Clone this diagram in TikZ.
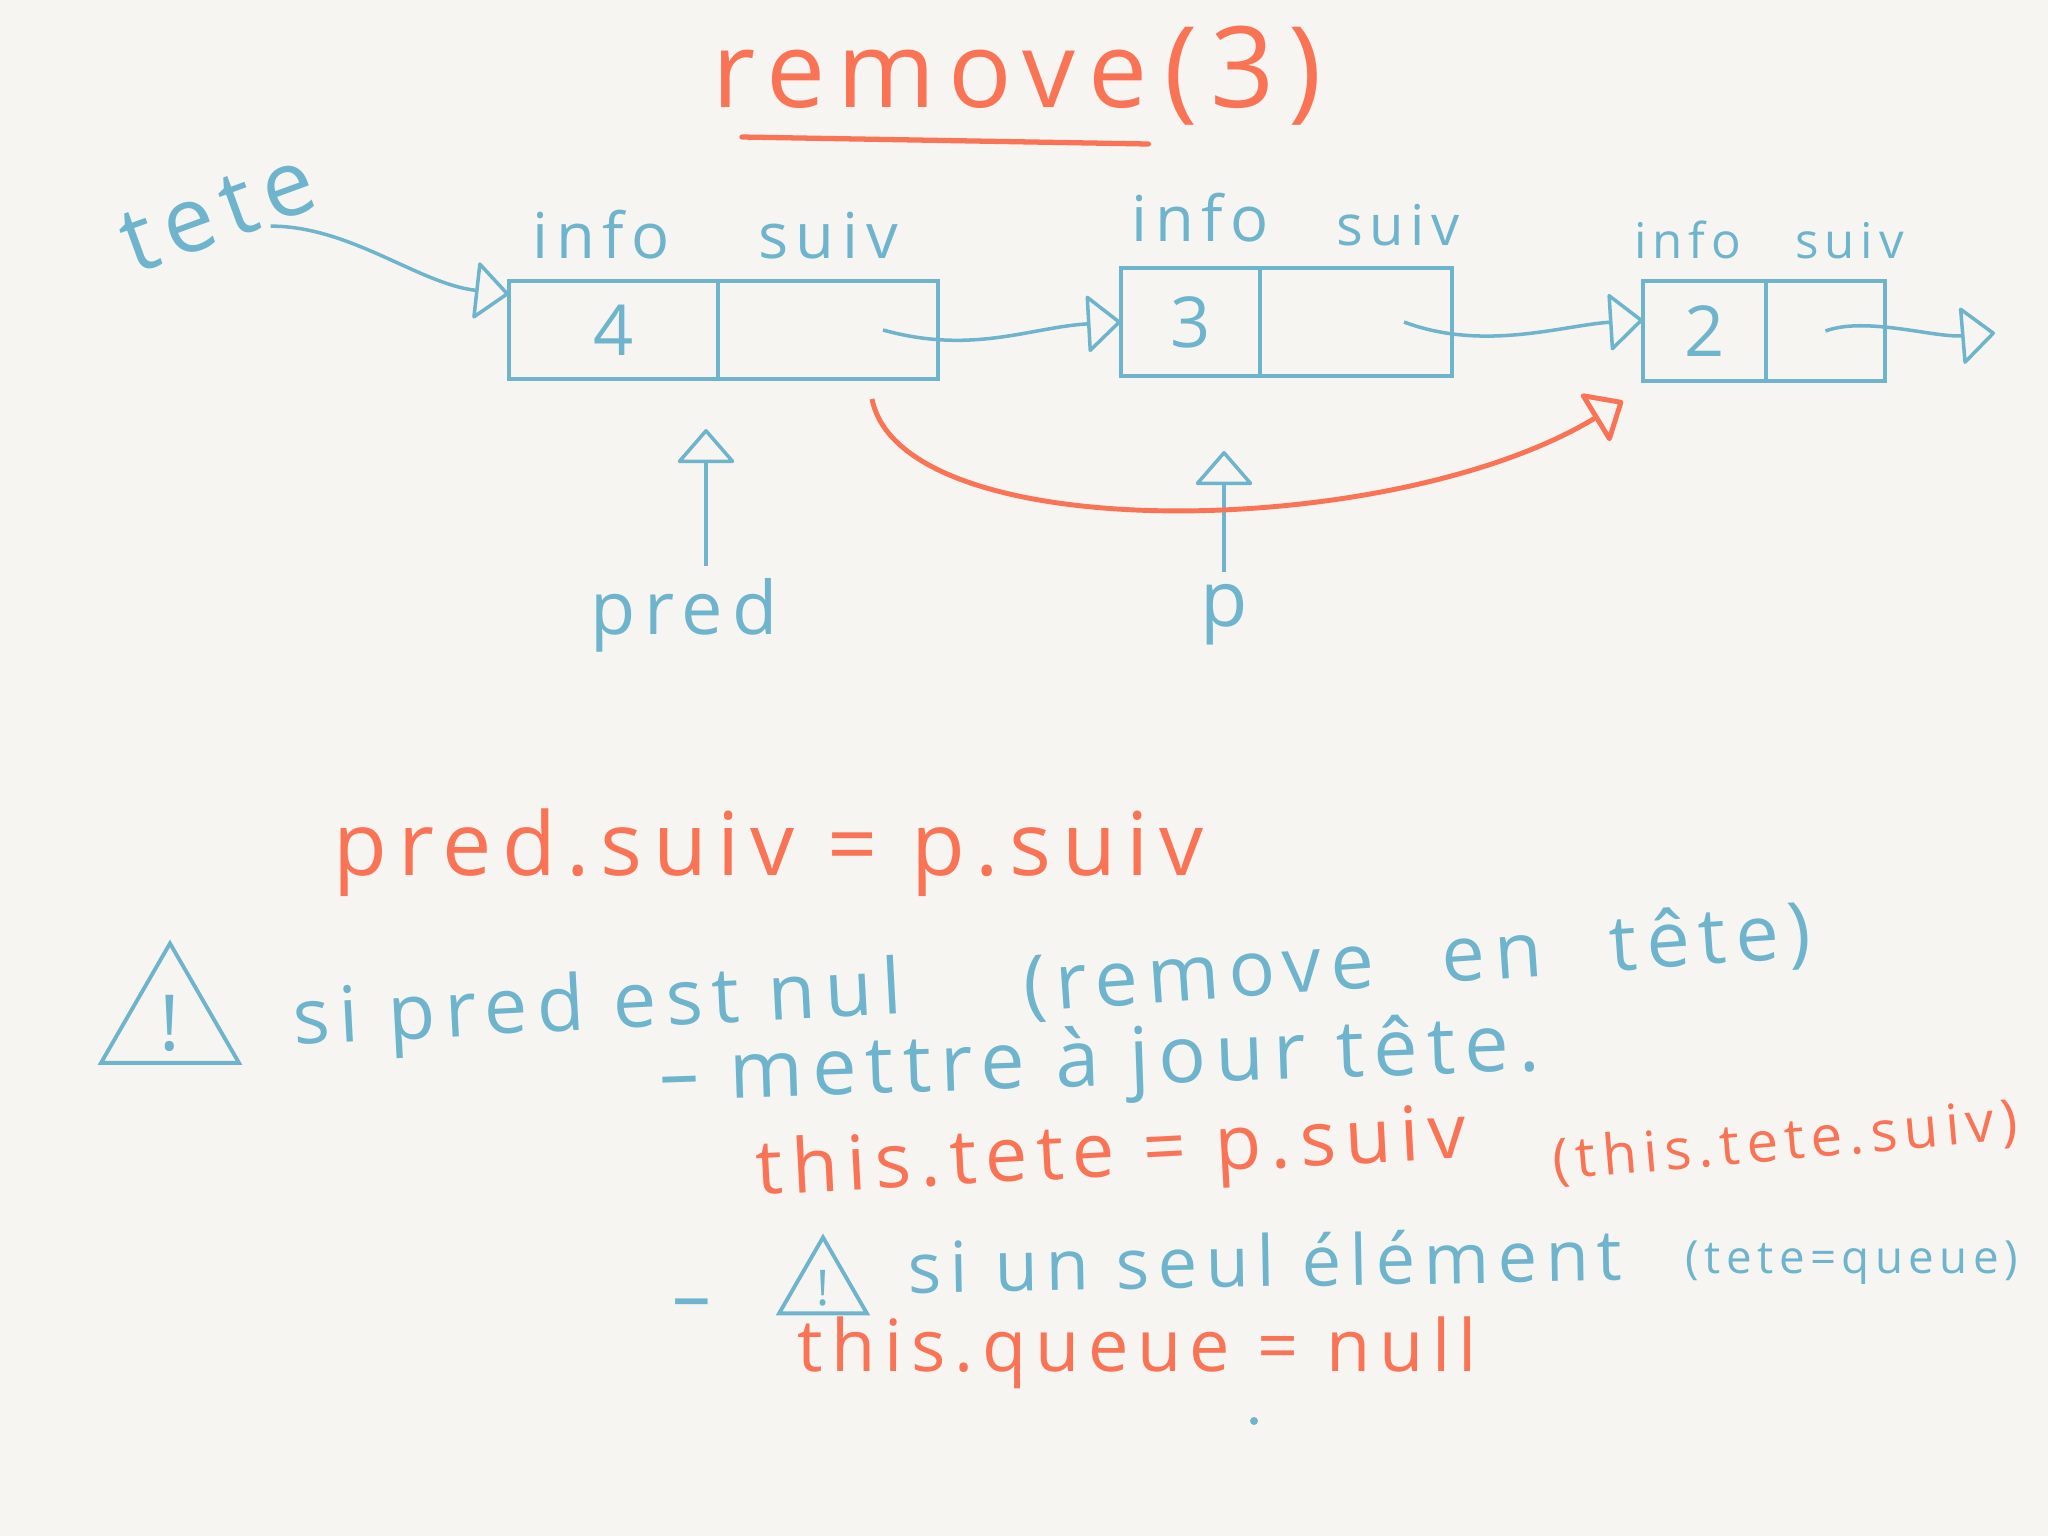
\documentclass[tikz,border=0pt]{standalone}
\usepackage{fontspec}
\setmainfont{Open Sans}[LetterSpace=12]
\usetikzlibrary{arrows.meta, positioning, shapes.geometric, calc}
\definecolor{paper}{RGB}{246,245,241}
\definecolor{blueink}{RGB}{110,180,205}
\definecolor{redink}{RGB}{250,115,85}
\newcommand{\hsz}[1]{\fontsize{#1}{#1}\selectfont}
\tikzset{
  cell/.style   ={rectangle, draw=blueink, line width=1.3pt, inner sep=0pt,
                  outer sep=0pt, text=blueink, font=\hsz{20}},
  fld/.style    ={text=blueink, inner sep=1pt, font=\hsz{18}},
  bluetxt/.style={text=blueink, inner sep=0pt, anchor=base west},
  redtxt/.style ={text=redink, inner sep=0pt, anchor=base west},
  warn/.style   ={regular polygon, regular polygon sides=3, draw=blueink,
                  line width=1.1pt, inner sep=0pt, text=blueink},
  arr/.style    ={-{Triangle[open, round, length=3.5mm, width=6mm]},
                  draw=blueink, line width=1pt},
  rarr/.style   ={-{Triangle[open, round, length=3.5mm, width=6mm]},
                  draw=redink, line width=1.4pt}
}
\begin{document}
\begin{tikzpicture}[x=0.1mm, y=-0.1mm]
    \useasboundingbox (0,0) rectangle (2048,1536);
    \fill[paper] (0,0) rectangle (2048,1536);
    % title
    \node[redtxt, font=\hsz{30}] (remove) at (712,107) {remove};
    \node[text=redink, inner sep=0pt, font=\hsz{32}, base right=1.5mm of remove] (arg) {(3)};
    \draw[redink, line width=1.5pt, line cap=round] ([xshift=3mm,yshift=-3mm]remove.base west) -- ([yshift=-3.7mm]remove.base east);
    % the list
    \node[cell, minimum width=20.9mm, minimum height=9.8mm] (info1) at (613.5,330) {4};
    \node[cell, minimum width=22mm, minimum height=9.8mm, right=0pt of info1] (suiv1) {};
    \node[cell, minimum width=13.9mm, minimum height=10.8mm] (info2) at (1190.5,322) {3};
    \node[cell, minimum width=19.2mm, minimum height=10.8mm, right=0pt of info2] (suiv2) {};
    \node[cell, minimum width=12.3mm, minimum height=10mm] (info3) at (1704.5,331) {2};
    \node[cell, minimum width=11.9mm, minimum height=10mm, right=0pt of info3] (suiv3) {};
    \node[fld, above=1.8mm of info1, xshift=-1.2mm] (lab1i) {info};
    \node[fld, above=1.8mm of suiv1] (lab1s) {suiv};
    \node[fld, above=2.2mm of info2, xshift=1mm] (lab2i) {info};
    \node[fld, font=\hsz{16}, above=1.8mm of suiv2, xshift=4.2mm] (lab2s) {suiv};
    \node[fld, font=\hsz{14}, above=1.8mm of info3, xshift=-1.7mm] (lab3i) {info};
    \node[fld, font=\hsz{14}, above=1.8mm of suiv3, xshift=2.4mm] (lab3s) {suiv};
    \coordinate (nil3) at (1995,333);
    % head and links
    \node[text=blueink, font=\hsz{26}, rotate=20, inner sep=0pt] (tete) at (218,212) {tete};
    \draw[arr] (tete.-35) .. controls +(80,0) and +(-90,-10) .. (info1.161);
    \draw[arr] ($(suiv1.center)!0.5!(suiv1.east)$) .. controls +(90,25) and +(-90,5) .. (info2.west);
    \draw[arr] ($(suiv2.center)!0.5!(suiv2.east)$) .. controls +(80,30) and +(-80,5) .. (info3.170);
    \draw[arr] (suiv3.center) .. controls +(40,-15) and +(-60,5) .. (nil3);
    % pred and p
    \node[text=blueink, font=\hsz{21}] (pred) at (684,615) {pred};
    \node[text=blueink, font=\hsz{22}] (p) at (1224,615) {p};
    \coordinate (predfoot) at ([xshift=2.2mm]pred.north);
    \draw[arr, shorten >=5mm] (predfoot) -- (predfoot |- info1.south);
    \draw[arr, shorten >=7.5mm] (p) -- (p |- info2.south);
    % new link
    \draw[rarr] ([xshift=4.4mm,yshift=-2mm]suiv1.south) .. controls +(30,150) and +(-230,140) .. ([xshift=-2mm,yshift=-2mm]info3.south west);
    % notes
    \node[redtxt, font=\hsz{25}] (upd) at (333,875) {pred.suiv = p.suiv};
    \node[warn, minimum size=14mm, font=\hsz{22}] (warn1) at (170,1023) {!};
    \node[bluetxt, font=\hsz{22}, rotate=3] (cond1) at (294,1045) {si pred est nul};
    \node[bluetxt, font=\hsz{22}, rotate=4] (note1) at (1025,1012) {(remove\hspace{.5em} en\hspace{.5em} tête)};
    \node[bluetxt, font=\hsz{22.5}, rotate=2] (step1) at (660,1101) {– mettre à jour tête.};
    \node[redtxt, font=\hsz{21.5}, rotate=3] (code1) at (757,1195) {this.tete = p.suiv};
    \node[redtxt, font=\hsz{16}, rotate=5] (code1b) at (1554,1180) {(this.tete.suiv)};
    \node[bluetxt, font=\hsz{22}] (dash2) at (672,1322) {–};
    \node[warn, minimum size=9mm, font=\hsz{14}] (warn2) at (823,1288) {!};
    \node[bluetxt, font=\hsz{20}, rotate=1] (cond2) at (908,1293) {si un seul élément};
    \node[bluetxt, font=\hsz{13}] (note2) at (1685,1273) {(tete=queue)};
    \node[redtxt, font=\hsz{20.5}] (code2) at (797,1371) {this.queue = null};
    \fill[blueink] (1254,1421) circle (4);
\end{tikzpicture}
\end{document}
